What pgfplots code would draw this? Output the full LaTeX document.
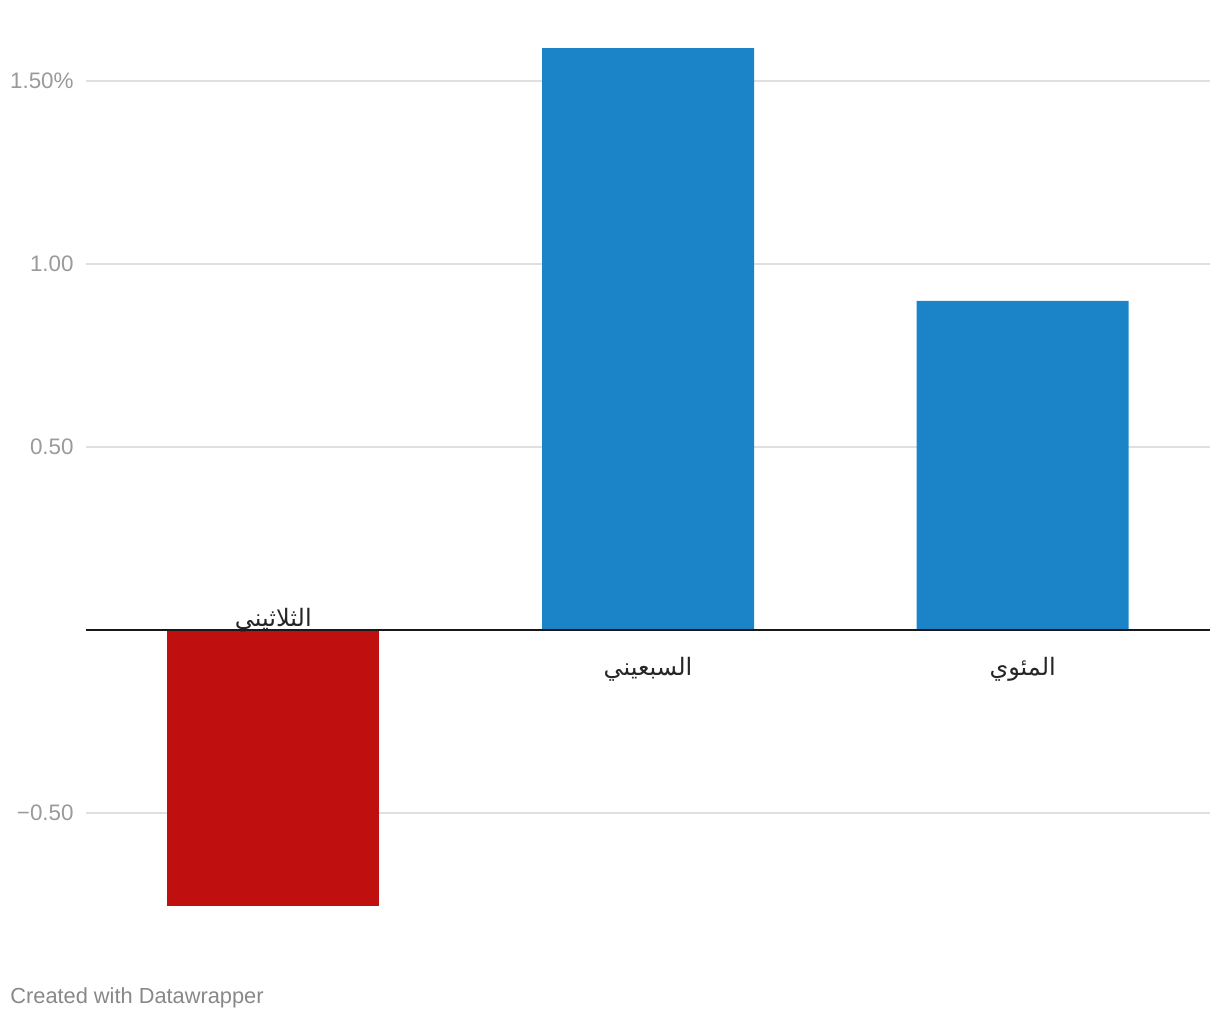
\documentclass[border=0pt]{standalone}
\usepackage{pgfplots}
\pgfplotsset{compat=1.18}
\usepackage{fontspec}
\setmainfont{Liberation Sans}
\newfontfamily\arabicfont[Script=Arabic]{DejaVu Sans}
\TeXXeTstate=1
\definecolor{barred}{HTML}{C00F0F}
\definecolor{barblue}{HTML}{1B84C8}
\definecolor{gridgray}{HTML}{E0E0E0}
\definecolor{tickgray}{HTML}{9A9A9A}
\definecolor{creditgray}{HTML}{888888}
\begin{document}
\begin{tikzpicture}
\useasboundingbox (0,0) rectangle (610pt,510pt);
\begin{axis}[
  at={(43pt,48.6pt)}, anchor=south west,
  scale only axis,
  width=562pt, height=448.35pt,
  xmin=-0.5, xmax=2.5, ymin=-0.8, ymax=1.65,
  axis line style={draw=none},
  major tick length=0pt,
  xtick=\empty,
  ytick={-0.5,0.5,1,1.5},
  yticklabels={−0.50,0.50,1.00,1.50\%},
  yticklabel style={font=\fontsize{11.2}{13}\selectfont, text=tickgray, inner sep=0pt, xshift=-6pt, anchor=east},
  ymajorgrids,
  grid style={draw=gridgray, line width=1pt},
  ybar, bar width=106pt,
  clip=false,
]
\addplot[fill=barred, draw=none, bar shift=0pt] coordinates {(0,-0.754)};
\addplot[fill=barblue, draw=none, bar shift=0pt] coordinates {(1,1.59) (2,0.899)};
\draw[color=black!90, line width=1pt] (axis cs:-0.5,0) -- (axis cs:2.5,0);
\node[anchor=center, yshift=5pt, font=\arabicfont\fontsize{12}{14}\selectfont, text=black!85] at (axis cs:0,0) {\beginR الثلاثيني\endR};
\node[anchor=center, yshift=-19.5pt, font=\arabicfont\fontsize{12}{14}\selectfont, text=black!85] at (axis cs:1,0) {\beginR السبعيني\endR};
\node[anchor=center, yshift=-19.5pt, font=\arabicfont\fontsize{12}{14}\selectfont, text=black!85] at (axis cs:2,0) {\beginR المئوي\endR};
\end{axis}
\node[anchor=base west, text=creditgray, font=\fontsize{10.9}{12}\selectfont, inner sep=0pt] at (5pt,8pt) {Created with Datawrapper};
\end{tikzpicture}
\end{document}
